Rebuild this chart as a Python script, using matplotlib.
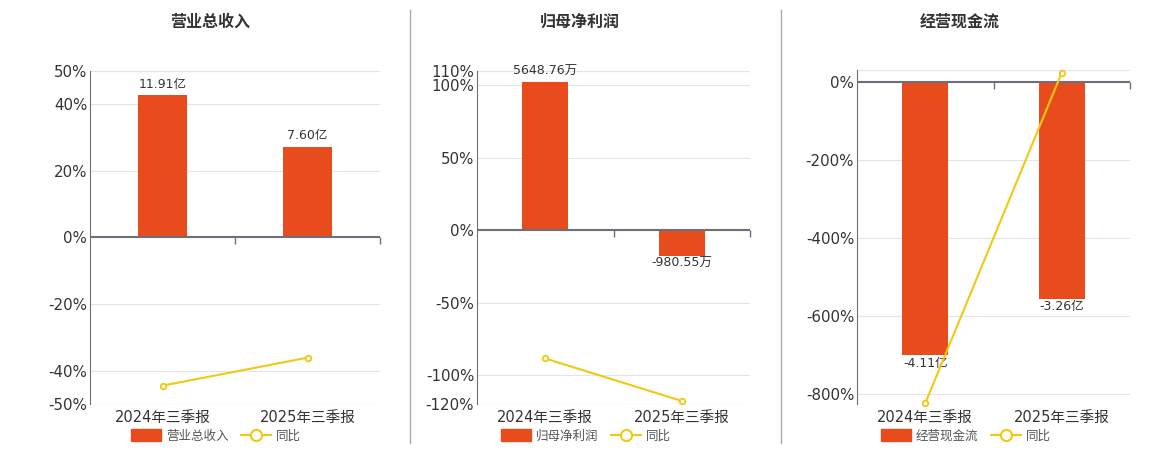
import matplotlib
matplotlib.use('Agg')
import matplotlib.pyplot as plt
import matplotlib.markers as mmarkers
from matplotlib.patches import Patch
from matplotlib.lines import Line2D
import numpy as np

plt.rcParams['font.family'] = ['DejaVu Sans', 'Noto Sans CJK SC']

categories = ['2024年三季报', '2025年三季报']

titles = ['营业总收入', '归母净利润', '经营现金流']
bar_values = [[11.91, 7.60], [5648.76, -980.55], [-4.11, -3.26]]
bar_labels = [['11.91亿', '7.60亿'], ['5648.76万', '-980.55万'], ['-4.11亿', '-3.26亿']]
yoy_values = [[-44.5, -36.1], [-88.6, -117.9], [-823.0, 23.0]]
pct_ticks = [[50, 40, 20, 0, -20, -40, -50],
             [110, 100, 50, 0, -50, -100, -120],
             [0, -200, -400, -600, -800]]
pct_limits = [(-50, 50), (-120, 110), (-825, 30)]
# percent units per bar unit, so bars share the zero of the percent axis
bar_scale = [42.7 / 11.91, 102.4 / 5648.76, 700.0 / 4.11]

bar_color = '#e84c1d'
line_color = '#f2c811'
axis_color = '#6e7079'
grid_color = '#e0e6f1'

fig = plt.figure(figsize=(11.6, 4.5), dpi=100)
W, H = 1160.0, 450.0

panels = [(90, 380, 70.7, 404), (477, 750, 70.7, 404), (857, 1130, 70, 404)]
title_x = [210, 580, 960]

for i in range(3):
    x0, x1, ytop, ybot = panels[i]
    ax = fig.add_axes([x0 / W, 1 - ybot / H, (x1 - x0) / W, (ybot - ytop) / H])
    k = bar_scale[i]
    lo, hi = pct_limits[i]
    x = np.arange(len(categories))

    ax.set_ylim(lo / k, hi / k)
    ax.set_xlim(-0.5, 1.5)
    ax.set_yticks(np.array(pct_ticks[i]) / k)
    ax.set_yticklabels([f'{t}%' for t in pct_ticks[i]], fontsize=10.8, color='#333333')
    ax.set_axisbelow(True)
    ax.grid(axis='y', color=grid_color, lw=0.8)
    ax.axhline(lo / k, color=grid_color, lw=0.8, zorder=0)
    ax.axhline(hi / k, color=grid_color, lw=0.8, zorder=0)

    bars = ax.bar(x, bar_values[i], width=0.34, color=bar_color, zorder=2)
    for b, v, lab in zip(bars, bar_values[i], bar_labels[i]):
        if v >= 0:
            ax.annotate(lab, (b.get_x() + b.get_width() / 2, v), xytext=(0, 3),
                        textcoords='offset points', ha='center', va='bottom',
                        fontsize=9, color='#333333', zorder=4)
        else:
            ax.annotate(lab, (b.get_x() + b.get_width() / 2, v), xytext=(0, -1),
                        textcoords='offset points', ha='center', va='top',
                        fontsize=9, color='#333333', zorder=4)

    ax.axhline(0, color=axis_color, lw=1.5, zorder=3)
    for xb in [0.5, 1.5]:
        ax.plot([xb], [0], marker=mmarkers.TICKDOWN, ms=5, mew=1,
                color=axis_color, zorder=3, clip_on=False)

    ax.set_xticks(x)
    ax.set_xticklabels(categories, fontsize=10.5, color='#333333')
    ax.tick_params(axis='x', length=0, pad=4)
    ax.tick_params(axis='y', length=0, pad=2)
    for s in ['top', 'right', 'bottom']:
        ax.spines[s].set_visible(False)
    ax.spines['left'].set_color(axis_color)

    ax2 = ax.twinx()
    ax2.set_ylim(lo, hi)
    ax2.plot(x, yoy_values[i], color=line_color, lw=1.5, marker='o', ms=4,
             mfc='white', mec=line_color, mew=1.3, clip_on=False, zorder=5)
    ax2.set_yticks([])
    for s in ax2.spines.values():
        s.set_visible(False)

    fig.text(title_x[i] / W, 1 - 22 / H, titles[i], ha='center', va='center',
             fontsize=11.5, fontweight='bold', color='#333333')

    handles = [Patch(facecolor=bar_color, edgecolor=bar_color),
               Line2D([0], [0], color=line_color, lw=1.5, marker='o', ms=8,
                      mfc='white', mec=line_color, mew=1.5)]
    fig.legend(handles, [titles[i], '同比'], loc='center',
               bbox_to_anchor=((title_x[i] + 6) / W, 1 - 436 / H), ncol=2,
               frameon=False, fontsize=9, handlelength=2.4, handleheight=1.1,
               columnspacing=1.0, handletextpad=0.4, labelcolor='#555555')

for sx in [410, 781]:
    fig.add_artist(Line2D([sx / W, sx / W], [1 - 10 / H, 1 - 443 / H],
                          color='#aaaaaa', lw=1))

fig.savefig('out.png', dpi=100)
